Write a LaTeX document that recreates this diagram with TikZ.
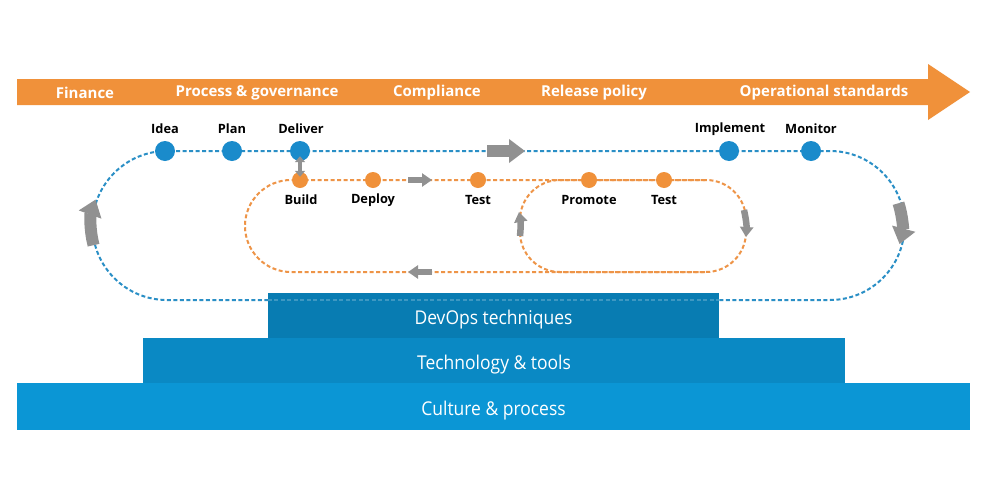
\documentclass[tikz,border=0pt]{standalone}
\usepackage{fontspec}
\setmainfont{Open Sans}
\newfontfamily\boxfont{Open Sans}[FakeStretch=0.92]
\usetikzlibrary{arrows.meta}
\definecolor{bandorange}{HTML}{F0913A}
\definecolor{dotorange}{HTML}{F0913A}
\definecolor{lineorange}{HTML}{EE9447}
\definecolor{dotblue}{HTML}{1A8BCB}
\definecolor{lineblue}{HTML}{2A8FC6}
\definecolor{arrowgray}{HTML}{919191}
\definecolor{boxA}{HTML}{087CB2}
\definecolor{boxB}{HTML}{0A89C4}
\definecolor{boxC}{HTML}{0B96D5}
\begin{document}
\begin{tikzpicture}[x=1pt,y=-1pt,
  bandtxt/.style={text=white,font=\fontsize{15}{17}\selectfont\bfseries,inner sep=0pt},
  lbl/.style={text=black,font=\fontsize{12.8}{14}\selectfont\bfseries,inner sep=0pt},
  bdot/.style={circle,fill=dotblue,minimum size=20pt,inner sep=0pt},
  odot/.style={circle,fill=dotorange,minimum size=16pt,inner sep=0pt},
  bluedash/.style={draw=lineblue,line width=2pt,dash pattern=on 4pt off 2.5pt},
  orangedash/.style={draw=lineorange,line width=2pt,dash pattern=on 4pt off 2.5pt},
  layerbox/.style={rectangle,inner sep=0pt,fill=#1},
  layertxt/.style={inner sep=0pt,text=white,font=\boxfont\fontsize{19}{21}\selectfont},
  bigarrow/.style={draw=arrowgray,line width=12pt,-{Triangle[width=23pt,length=16pt]}},
  smallarrow/.style={draw=arrowgray,line width=6.5pt,-{Triangle[width=13pt,length=10pt]}},
]
\useasboundingbox (0,0) rectangle (1000,482);
\fill[white] (0,0) rectangle (1000,482);

% orange band arrow
\fill[bandorange] (17,79) -- (928,79) -- (928,64) -- (970,92) -- (928,120) -- (928,105) -- (17,105) -- cycle;
\node[bandtxt] (fin) at (85,93) {Finance};
\node[bandtxt] (proc) at (257,93) {Process \& governance};
\node[bandtxt] (comp) at (437,93) {Compliance};
\node[bandtxt] (rel) at (594,93) {Release policy};
\node[bandtxt] (ops) at (824,93) {Operational standards};

% outer blue loop
\path[bluedash] (830,151) -- (167,151) arc[start angle=270,end angle=90,radius=74.5]
  -- (830,300) arc[start angle=90,end angle=-90,radius=74.5];

% orange loops
\path[orangedash] (705,180) -- (291,180) arc[start angle=270,end angle=90,radius=46] -- (705,272);
\path[orangedash,rounded corners=40pt] (520,180) rectangle (746,272);

% layer boxes
\node[layerbox=boxC,minimum width=953pt,minimum height=47pt] (culture) at (493.5,406.5) {};
\node[layerbox=boxB,minimum width=702pt,minimum height=45pt] (tech) at (494,360.5) {};
\node[layerbox=boxA,minimum width=451pt,minimum height=45pt] (devops) at (493.5,315.5) {};
\draw[bluedash,draw=white,opacity=0.22] (devops.west |- 0,300) -- (devops.east |- 0,300);
\node[layertxt,yshift=-4pt] (cultureT) at (culture) {Culture \& process};
\node[layertxt,yshift=-4pt] (techT) at (tech) {Technology \& tools};
\node[layertxt,yshift=-4pt] (devopsT) at (devops) {DevOps techniques};

% blue dots
\node[bdot] (idea) at (165,151) {};
\node[bdot] (plan) at (232,151) {};
\node[bdot] (deliver) at (300,151) {};
\node[bdot] (impl) at (729,151) {};
\node[bdot] (mon) at (811,151) {};
\node[lbl] (ideaL) at (165,129) {Idea};
\node[lbl] (planL) at (232,129) {Plan};
\node[lbl] (deliverL) at (301,129) {Deliver};
\node[lbl] (implL) at (730,129) {Implement};
\node[lbl] (monL) at (811,129) {Monitor};

% orange dots
\node[odot] (build) at (300,180) {};
\node[odot] (deploy) at (373,180) {};
\node[odot] (test1) at (478,180) {};
\node[odot] (promote) at (589,180) {};
\node[odot] (test2) at (664,180) {};
\node[lbl] (buildL) at (301,200) {Build};
\node[lbl] (deployL) at (373,200) {Deploy};
\node[lbl] (test1L) at (478,200) {Test};
\node[lbl] (promoteL) at (589,200) {Promote};
\node[lbl] (test2L) at (664,200) {Test};

% gray arrows
\draw[draw=arrowgray,line width=4pt,shorten <=-5pt,shorten >=-5pt,
  {Triangle[width=10pt,length=6pt]}-{Triangle[width=10pt,length=6pt]}] (deliver.south) -- (build.north);
\path[bigarrow] (487,151) -- (525,151);
\path[bigarrow] (167,225.5) ++(165:76) arc[start angle=165,end angle=200,radius=76];
\path[bigarrow] (830,225.5) ++(-18:72) arc[start angle=-18,end angle=15,radius=72];
\path[smallarrow] (408,180) -- (432,180);
\path[smallarrow] (432,272) -- (408,272);
\path[smallarrow] (520,236) to[bend right=8] (519,212);
\path[smallarrow] (744,210) to[bend left=8] (746,237);
\end{tikzpicture}
\end{document}
